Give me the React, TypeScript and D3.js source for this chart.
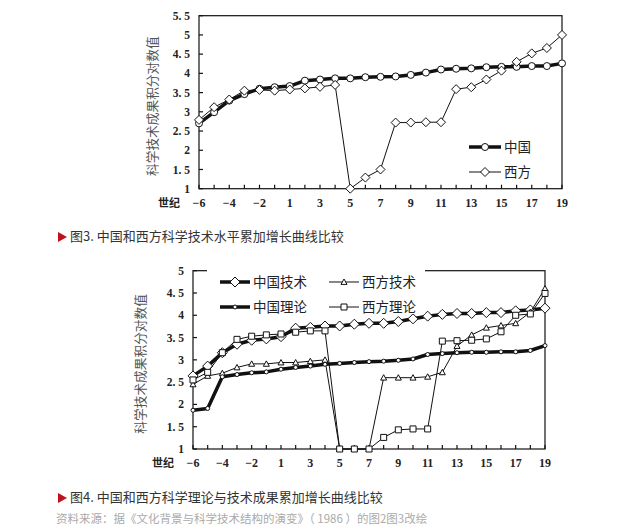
import React, { useEffect, useRef } from "react";
import * as d3 from "d3";

// centuries (negative = BC)
const centuries = ["-6", "-5", "-4", "-3", "-2", "-1", "1", "2", "3", "4", "5", "6", "7", "8", "9", "10", "11", "12", "13", "14", "15", "16", "17", "18", "19"];
const tickLabels = ["−6", "−4", "−2", "1", "3", "5", "7", "9", "11", "13", "15", "17", "19"];

// fig 3
const fig3China = [2.70, 2.99, 3.29, 3.46, 3.60, 3.64, 3.67, 3.81, 3.84, 3.87, 3.87, 3.90, 3.91, 3.92, 3.96, 4.02, 4.10, 4.12, 4.13, 4.16, 4.17, 4.17, 4.19, 4.19, 4.26];
const fig3West = [2.79, 3.12, 3.32, 3.55, 3.57, 3.55, 3.58, 3.61, 3.65, 3.70, 1.00, 1.29, 1.50, 2.72, 2.72, 2.73, 2.73, 3.59, 3.64, 3.84, 4.07, 4.30, 4.52, 4.66, 5.00];
const fig3Ticks = [1, 1.5, 2, 2.5, 3, 3.5, 4, 4.5, 5, 5.5];

// fig 4
const chinaTech = [2.64, 2.86, 3.16, 3.35, 3.44, 3.47, 3.52, 3.71, 3.73, 3.76, 3.76, 3.80, 3.82, 3.82, 3.86, 3.92, 3.98, 4.02, 4.04, 4.04, 4.06, 4.06, 4.10, 4.12, 4.16];
const westTech = [2.45, 2.64, 2.70, 2.83, 2.91, 2.91, 2.94, 2.94, 2.97, 3.00, 1.00, 1.00, 1.00, 2.60, 2.60, 2.60, 2.62, 2.72, 3.31, 3.56, 3.72, 3.77, 3.82, 4.07, 4.60];
const chinaTheory = [1.87, 1.91, 2.62, 2.67, 2.71, 2.73, 2.79, 2.83, 2.86, 2.90, 2.92, 2.94, 2.96, 2.97, 2.99, 3.02, 3.12, 3.14, 3.16, 3.17, 3.17, 3.18, 3.18, 3.21, 3.32];
const westTheory = [2.55, 2.72, 3.16, 3.46, 3.53, 3.56, 3.58, 3.62, 3.65, 3.65, 1.00, 1.00, 1.00, 1.26, 1.43, 1.45, 1.45, 3.42, 3.43, 3.44, 3.47, 3.63, 4.00, 4.03, 4.49];
const fig4Ticks = [1, 1.5, 2, 2.5, 3, 3.5, 4, 4.5, 5];

const numFont = "'Liberation Serif', 'DejaVu Serif', serif";
const cjkFont = "'Noto Sans CJK SC', 'Noto Sans', sans-serif";

type G = d3.Selection<SVGGElement, unknown, null, undefined>;

const diamond = (r: number) => `M0,${-r}L${r},0L0,${r}L${-r},0Z`;
const square = (r: number) => `M${-r},${-r}H${r}V${r}H${-r}Z`;
const triangle = (r: number) => `M0,${-r}L${r},${r * 0.8}L${-r},${r * 0.8}Z`;

type Series = { values: number[]; width: number; marker: (g: G, x: number, y: number) => void };

const drawChart = (
  root: G,
  box: { left: number; right: number; top: number; bottom: number },
  domain: [number, number],
  ticks: number[],
  series: Series[],
  yTitle: string,
  titleX: number
) => {
  const x = d3.scaleLinear().domain([0, centuries.length - 1]).range([box.left, box.right]);
  const y = d3.scaleLinear().domain(domain).range([box.bottom, box.top]);

  // frame
  const frame = root.append("g").attr("stroke", "#111").attr("stroke-width", 1.2).attr("fill", "none");
  frame.append("rect").attr("x", box.left).attr("y", box.top)
    .attr("width", box.right - box.left).attr("height", box.bottom - box.top);

  // y ticks (inward)
  ticks.forEach((t) => {
    frame.append("line").attr("x1", box.left).attr("x2", box.left + 4).attr("y1", y(t)).attr("y2", y(t));
    root.append("text")
      .attr("x", box.left - 9).attr("y", y(t)).attr("dy", "0.35em")
      .attr("text-anchor", "end").attr("font-family", numFont).attr("font-weight", "bold")
      .attr("font-size", 11.5).attr("fill", "#222")
      .text(String(t).replace(".", ". "));
  });

  // x ticks (inward)
  centuries.forEach((_, i) => {
    frame.append("line").attr("x1", x(i)).attr("x2", x(i)).attr("y1", box.bottom).attr("y2", box.bottom - 4);
  });
  tickLabels.forEach((lab, k) => {
    root.append("text")
      .attr("x", x(k * 2)).attr("y", box.bottom + 18)
      .attr("text-anchor", "middle").attr("font-family", numFont).attr("font-weight", "bold")
      .attr("font-size", 12).attr("fill", "#222").text(lab);
  });
  root.append("text")
    .attr("x", box.left - 30).attr("y", box.bottom + 18)
    .attr("text-anchor", "middle").attr("font-family", cjkFont).attr("font-weight", "bold")
    .attr("font-size", 11).attr("fill", "#222").text("世纪");

  // y title
  root.append("text")
    .attr("transform", `translate(${titleX},${(box.top + box.bottom) / 2 + 4}) rotate(-90)`)
    .attr("text-anchor", "middle").attr("font-family", cjkFont)
    .attr("font-size", 12.7).attr("fill", "#555").text(yTitle);

  // series
  const line = d3.line<number>().x((_, i) => x(i)).y((d) => y(d));
  series.forEach((s) => {
    root.append("path").datum(s.values)
      .attr("fill", "none").attr("stroke", "#111").attr("stroke-width", s.width)
      .attr("stroke-linejoin", "round").attr("d", line);
    s.values.forEach((v, i) => s.marker(root, x(i), y(v)));
  });
};

const marker = (d: string, sw = 1) => (g: G, x: number, y: number) => {
  g.append("path").attr("d", d).attr("transform", `translate(${x},${y})`)
    .attr("fill", "#fff").attr("stroke", "#111").attr("stroke-width", sw);
};
const circle = (r: number, sw = 1) => (g: G, x: number, y: number) => {
  g.append("circle").attr("cx", x).attr("cy", y).attr("r", r)
    .attr("fill", "#fff").attr("stroke", "#111").attr("stroke-width", sw);
};

const legendItem = (g: G, x: number, y: number, width: number, s: Series, label: string) => {
  g.append("line").attr("x1", x).attr("x2", x + width).attr("y1", y).attr("y2", y)
    .attr("stroke", "#111").attr("stroke-width", s.width);
  s.marker(g, x + width / 2, y);
  g.append("text").attr("x", x + width + 3).attr("y", y).attr("dy", "0.36em")
    .attr("font-family", cjkFont).attr("font-size", 13.5).attr("fill", "#222").text(label);
};

const App = () => {
  const ref = useRef<SVGSVGElement | null>(null);

  useEffect(() => {
    const svg = d3.select(ref.current);
    svg.selectAll("*").remove();

    // figure 3
    const g3 = svg.append("g") as unknown as G;
    const s3China: Series = { values: fig3China, width: 3.5, marker: circle(3.5) };
    const s3West: Series = { values: fig3West, width: 1, marker: marker(diamond(4.5)) };
    drawChart(g3, { left: 199, right: 562, top: 15.7, bottom: 188.7 }, [1, 5.5], fig3Ticks,
      [s3China, s3West], "科学技术成果积分对数值", 157);
    legendItem(g3, 469, 147, 32, s3China, "中国");
    legendItem(g3, 469, 172, 32, s3West, "西方");

    // figure 4
    const g4 = svg.append("g") as unknown as G;
    const sTech: Series = { values: chinaTech, width: 3.5, marker: marker(diamond(5)) };
    const sWTech: Series = { values: westTech, width: 1, marker: marker(triangle(3)) };
    const sTheory: Series = { values: chinaTheory, width: 3.5, marker: circle(2) };
    const sWTheory: Series = { values: westTheory, width: 1, marker: marker(square(3)) };
    drawChart(g4, { left: 193, right: 545, top: 270.7, bottom: 449 }, [1, 5], fig4Ticks,
      [sTech, sWTech, sTheory, sWTheory], "科学技术成果积分对数值", 145);
    g4.append("rect").attr("x", 207).attr("y", 264).attr("width", 218).attr("height", 50).attr("fill", "#fff");
    legendItem(g4, 220, 282, 30, sTech, "中国技术");
    legendItem(g4, 329, 282, 30, sWTech, "西方技术");
    legendItem(g4, 220, 307, 30, sTheory, "中国理论");
    legendItem(g4, 329, 307, 30, sWTheory, "西方理论");

    // captions
    const cap = (yy: number, label: string) => {
      svg.append("path").attr("d", "M58,-5L67,0L58,5Z").attr("transform", `translate(0,${yy - 4})`).attr("fill", "#c0101a");
      svg.append("text").attr("x", 70).attr("y", yy).attr("font-family", cjkFont)
        .attr("font-size", 13).attr("fill", "#333").text(label);
    };
    cap(241, "图3. 中国和西方科学技术水平累加增长曲线比较");
    cap(502, "图4. 中国和西方科学理论与技术成果累加增长曲线比较");
    svg.append("text").attr("x", 56).attr("y", 523).attr("font-family", cjkFont)
      .attr("font-size", 11.5).attr("fill", "#aaa")
      .text("资料来源：据《文化背景与科学技术结构的演变》（ 1986 ）的图2图3改绘");
  }, []);

  return (
    <svg ref={ref} width={620} height={530}
      style={{ position: "absolute", left: 0, top: 0, background: "#fff" }} />
  );
};

export default App;
